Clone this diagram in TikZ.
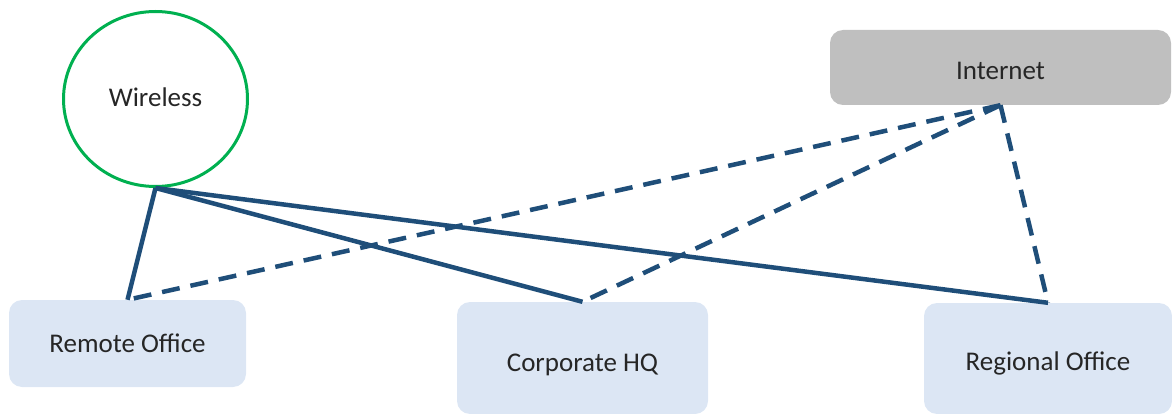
\documentclass[tikz,border=0pt]{standalone}
\usepackage{fontspec}
\setmainfont{Carlito}
\usetikzlibrary{shapes.geometric}
\definecolor{linkblue}{HTML}{1F4E79}
\definecolor{ringgreen}{HTML}{00B050}
\definecolor{sitefill}{HTML}{DCE6F4}
\definecolor{cloudfill}{HTML}{BFBFBF}
\definecolor{labeltext}{HTML}{262626}
\tikzset{
  lbl/.style={text=labeltext, font=\fontsize{27}{32}\selectfont, text depth=0pt},
  site/.style={lbl, rectangle, rounded corners=13pt, fill=sitefill, draw=none, inner sep=0pt},
  cloud/.style={lbl, rectangle, rounded corners=13pt, fill=cloudfill, draw=none, inner sep=0pt},
  ring/.style={lbl, ellipse, draw=ringgreen, line width=3pt, inner sep=0pt},
  wired/.style={draw=linkblue, line width=4.5pt},
  vpn/.style={draw=linkblue, line width=4.5pt, dash pattern=on 18pt off 11pt},
}
\begin{document}
\begin{tikzpicture}[x=1pt, y=-1pt]
  \useasboundingbox (0,0) rectangle (1172,414);
  % sites
  \node[ring, minimum width=184pt, minimum height=175pt, text height=15.5pt] (wl) at (155.5,99) {Wireless};
  \node[cloud, minimum width=341pt, minimum height=75pt, text height=25pt] (inet) at (1000.5,67.5) {Internet};
  \node[site, minimum width=237pt, minimum height=87pt, text height=18pt] (ro) at (127.5,343.5) {Remote Office};
  \node[site, minimum width=251pt, minimum height=112pt, text height=26pt] (hq) at (582.5,358) {Corporate HQ};
  \node[site, minimum width=248pt, minimum height=111pt, text height=24pt] (reg) at (1048,358.5) {Regional Office};
  % wireless links
  \draw[wired] (wl.south) -- (ro.north);
  \draw[wired] (wl.south) -- (hq.north);
  \draw[wired] (wl.south) -- (reg.north);
  % internet links
  \draw[vpn] (inet.south) -- (ro.north);
  \draw[vpn] (inet.south) -- (hq.north);
  \draw[vpn] (inet.south) -- (reg.north);
\end{tikzpicture}
\end{document}
